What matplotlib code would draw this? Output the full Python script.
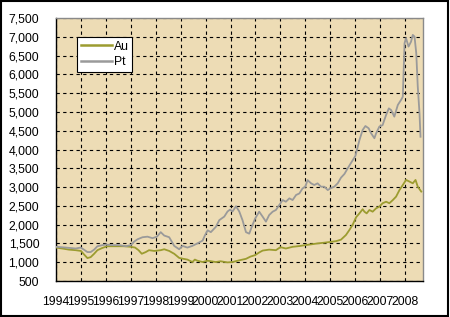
import matplotlib
matplotlib.use("Agg")
import matplotlib.pyplot as plt
from matplotlib import font_manager
from matplotlib.patches import Rectangle
from matplotlib.lines import Line2D

# ---------------- data (decimal years, price) ----------------
au_year = [1994.00, 1994.25, 1994.52, 1994.79, 1995.00, 1995.12, 1995.26, 1995.39, 1995.53,
           1995.66, 1995.86, 1996.06, 1996.40, 1996.73, 1997.00, 1997.17, 1997.31, 1997.44,
           1997.60, 1997.73, 1997.94, 1998.20, 1998.34, 1998.54, 1998.74, 1998.94, 1999.07,
           1999.27, 1999.47, 1999.57, 1999.67, 1999.88, 2000.08, 2000.41, 2000.60, 2000.88,
           2001.08, 2001.35, 2001.62, 2001.80, 2001.99, 2002.15, 2002.29, 2002.55, 2002.82,
           2003.00, 2003.22, 2003.49, 2003.76, 2004.00, 2004.23, 2004.49, 2004.76, 2005.00,
           2005.23, 2005.43, 2005.63, 2005.77, 2005.90, 2006.04, 2006.17, 2006.30, 2006.37,
           2006.46, 2006.57, 2006.70, 2006.84, 2006.97, 2007.10, 2007.24, 2007.37, 2007.51,
           2007.64, 2007.78, 2007.91, 2008.04, 2008.18, 2008.31, 2008.42, 2008.51, 2008.65]
au_price = [1390, 1365, 1335, 1320, 1300, 1210, 1110, 1135, 1225,
            1320, 1380, 1425, 1425, 1425, 1410, 1390, 1320, 1225,
            1270, 1320, 1300, 1320, 1345, 1300, 1225, 1115, 1095,
            1070, 1005, 1070, 1040, 1005, 1040, 1005, 1025, 995,
            1005, 1050, 1090, 1150, 1190, 1260, 1310, 1335, 1320,
            1400, 1365, 1410, 1430, 1455, 1475, 1500, 1520, 1540,
            1560, 1600, 1725, 1860, 2000, 2200, 2300, 2410, 2345,
            2300, 2390, 2345, 2435, 2480, 2570, 2610, 2570, 2655,
            2745, 2925, 3055, 3190, 3145, 3100, 3190, 3010, 2880]

pt_year = [1994.00, 1994.39, 1994.79, 1994.99, 1995.12, 1995.26, 1995.39, 1995.53, 1995.66,
           1995.86, 1996.00, 1996.26, 1996.53, 1996.80, 1997.00, 1997.13, 1997.27, 1997.47,
           1997.67, 1997.87, 1998.05, 1998.20, 1998.34, 1998.54, 1998.74, 1998.94, 1999.07,
           1999.27, 1999.47, 1999.67, 1999.88, 1999.97, 2000.08, 2000.21, 2000.41, 2000.55,
           2000.75, 2000.88, 2000.98, 2001.08, 2001.22, 2001.35, 2001.48, 2001.62, 2001.75,
           2001.88, 2001.99, 2002.15, 2002.29, 2002.42, 2002.55, 2002.69, 2002.82, 2003.00,
           2003.09, 2003.22, 2003.36, 2003.49, 2003.63, 2003.76, 2003.89, 2004.00, 2004.09,
           2004.23, 2004.36, 2004.49, 2004.63, 2004.76, 2004.90, 2005.00, 2005.16, 2005.30,
           2005.43, 2005.57, 2005.70, 2005.84, 2006.01, 2006.17, 2006.30, 2006.41, 2006.54,
           2006.64, 2006.77, 2006.84, 2006.97, 2007.10, 2007.24, 2007.35, 2007.44, 2007.57,
           2007.71, 2007.84, 2007.91, 2007.98, 2008.04, 2008.14, 2008.24, 2008.31, 2008.38,
           2008.45, 2008.51, 2008.58, 2008.62]
pt_price = [1410, 1390, 1365, 1390, 1335, 1270, 1270, 1335, 1425,
            1455, 1470, 1455, 1455, 1425, 1455, 1545, 1610, 1665,
            1680, 1640, 1680, 1800, 1710, 1665, 1435, 1345, 1435,
            1390, 1435, 1500, 1575, 1710, 1850, 1800, 1940, 2120,
            2215, 2350, 2400, 2350, 2490, 2350, 2120, 1800, 1760,
            1990, 2165, 2345, 2210, 2080, 2255, 2345, 2390, 2565,
            2655, 2610, 2700, 2655, 2790, 2830, 2965, 3010, 3185,
            3100, 3055, 3100, 3010, 3010, 2920, 2965, 3010, 3100,
            3250, 3350, 3500, 3650, 3830, 4250, 4520, 4625, 4565,
            4430, 4300, 4430, 4610, 4650, 4920, 5095, 5050, 4875,
            5185, 5320, 5405, 6830, 6960, 6740, 6870, 7050, 7005,
            6560, 5675, 4960, 4340]

year_labels = [str(y) for y in range(1994, 2009)]
y_ticks = list(range(500, 7501, 500))

# ---------------- style ----------------
avail = {f.name for f in font_manager.fontManager.ttflist}
fam = "Liberation Sans Narrow" if "Liberation Sans Narrow" in avail else "Liberation Sans"
plt.rcParams['font.family'] = [fam, 'DejaVu Sans']

AU_COLOR = "#9c9c30"
PT_COLOR = "#9a9a9a"
BG = "#eddcb5"

fig = plt.figure(figsize=(4.5, 3.17), dpi=100)
fig.patch.set_facecolor("white")
ax = fig.add_axes([56/450, 1-281/317, (423-56)/450, (281-18)/317])
ax.set_facecolor(BG)

ax.plot(au_year, au_price, color=AU_COLOR, lw=1.3, zorder=3)
ax.plot(pt_year, pt_price, color=PT_COLOR, lw=1.3, zorder=4)

ax.set_xlim(1994, 2008.72)
ax.set_ylim(500, 7500)
ax.set_yticks(y_ticks)
ax.set_yticklabels([f"{v:,}" for v in y_ticks])
ax.set_xticks(range(1994, 2009))
ax.set_xticklabels(year_labels)
ax.tick_params(axis='both', length=0, labelsize=8.8, colors="black")
ax.tick_params(axis='y', pad=12)
ax.tick_params(axis='x', pad=11)

ax.grid(True, color="black", linestyle=(0, (3, 3)), linewidth=0.8, zorder=1)
ax.set_axisbelow(True)

for s in ["top", "right"]:
    ax.spines[s].set_color("#8a8a8a")
    ax.spines[s].set_linewidth(1.0)
for s in ["left", "bottom"]:
    ax.spines[s].set_color("black")
    ax.spines[s].set_linewidth(1.0)

handles = [Line2D([], [], color=AU_COLOR, lw=1.8), Line2D([], [], color=PT_COLOR, lw=1.8)]
leg = ax.legend(handles, ["Au", "Pt"], loc="upper left",
                bbox_to_anchor=((77-56)/367, 1-(37-18)/263),
                frameon=True, fancybox=False, fontsize=8.8, handlelength=2.6,
                handletextpad=0.1, borderpad=0.3, labelspacing=0.3, borderaxespad=0)
leg.get_frame().set_edgecolor("black")
leg.get_frame().set_linewidth(0.8)
leg.get_frame().set_facecolor("white")
leg.get_frame().set_alpha(1)

fig.add_artist(Rectangle((0.002, 0.003), 0.994, 0.993, transform=fig.transFigure,
                         fill=False, edgecolor="black", linewidth=1.5))

fig.savefig("out.png", dpi=100, facecolor="white")
